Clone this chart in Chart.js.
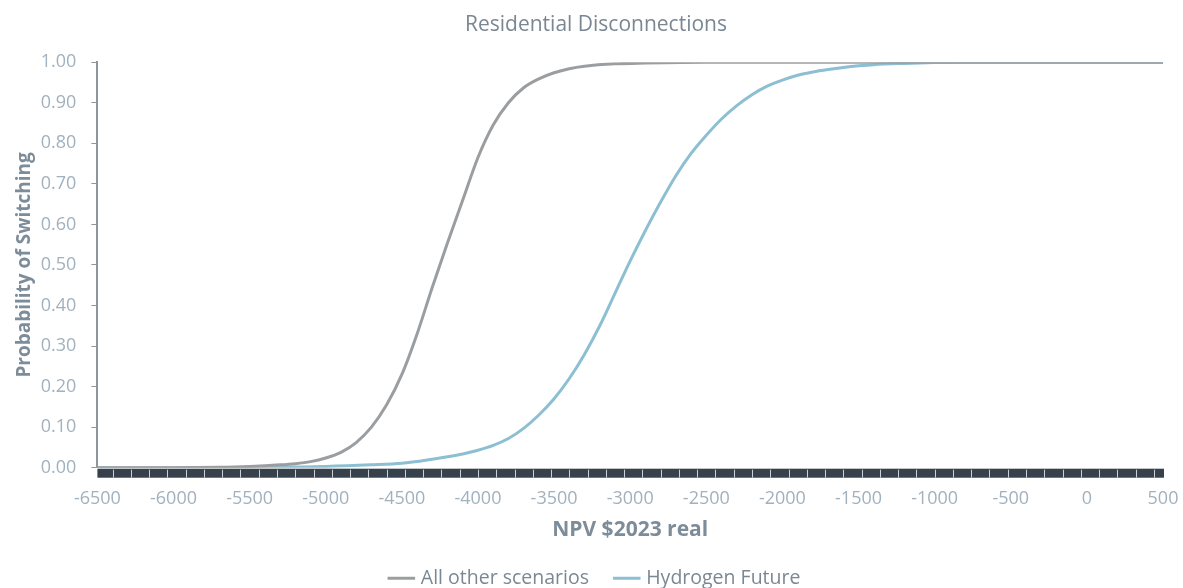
<!DOCTYPE html>
<html lang="en">
<head>
    <meta charset="UTF-8">
    <title>Residential Disconnections</title>
    <script src="https://cdn.jsdelivr.net/npm/chart.js"></script>
    <style>
        body {
            margin: 0;
            background-color: #ffffff;
            font-family: 'Open Sans', sans-serif;
        }

        .chart-box {
            position: relative;
            width: 1183px;
            height: 588px;
        }
    </style>
</head>
<body>

    <div class="chart-box">
        <canvas id="switchChart"></canvas>
    </div>

    <script>
        // NPV values ($2023 real) and switching probabilities
        var otherNpv = [-6500, -6000, -5700, -5500, -5300, -5200, -5100, -5000, -4900, -4800, -4700, -4600,
            -4500, -4400, -4300, -4200, -4100, -4000, -3900, -3800, -3700, -3600, -3500, -3400,
            -3300, -3100, -2900, -2500, 500];
        var otherProb = [0.000, 0.000, 0.001, 0.003, 0.007, 0.010, 0.015, 0.024, 0.038, 0.062, 0.100, 0.155,
            0.230, 0.330, 0.445, 0.555, 0.660, 0.765, 0.845, 0.900, 0.937, 0.959, 0.974, 0.984,
            0.990, 0.996, 0.998, 1.000, 1.000];

        var hydrogenNpv = [-6500, -6000, -5500, -5000, -4700, -4500, -4300, -4200, -4100, -4000, -3900, -3800,
            -3700, -3600, -3500, -3400, -3300, -3200, -3100, -3000, -2900, -2800, -2700, -2600,
            -2500, -2400, -2300, -2200, -2100, -2000, -1900, -1800, -1700, -1600, -1500, -1400,
            -1200, -1000, -800, 500];
        var hydrogenProb = [0.000, 0.000, 0.001, 0.003, 0.007, 0.011, 0.021, 0.027, 0.034, 0.043, 0.055, 0.072,
            0.097, 0.130, 0.170, 0.220, 0.280, 0.350, 0.430, 0.510, 0.585, 0.655, 0.720, 0.775,
            0.820, 0.860, 0.893, 0.920, 0.941, 0.956, 0.968, 0.976, 0.982, 0.987, 0.991, 0.994,
            0.997, 0.999, 1.000, 1.000];

        var seriesNames = ['All other scenarios', 'Hydrogen Future'];

        function toPoints(xs, ys) {
            return xs.map(function (x, i) { return { x: x, y: ys[i] }; });
        }

        // dark band under the x axis, with light separators
        var axisBand = {
            id: 'axisBand',
            beforeDatasetsDraw: function (chart) {
                var ctx = chart.ctx;
                var area = chart.chartArea;
                var xs = chart.scales.x;
                ctx.save();
                ctx.fillStyle = '#36414b';
                ctx.fillRect(area.left, area.bottom + 1, area.right - area.left + 1, 9);
                ctx.strokeStyle = '#c9d0d6';
                ctx.lineWidth = 1;
                for (var v = -6400; v < 500; v += 120) {
                    var px = Math.round(xs.getPixelForValue(v)) + 0.5;
                    ctx.beginPath();
                    ctx.moveTo(px, area.bottom + 2);
                    ctx.lineTo(px, area.bottom + 10);
                    ctx.stroke();
                }
                ctx.restore();
            }
        };

        var ctx1 = document.getElementById('switchChart').getContext('2d');
        var switchChart = new Chart(ctx1, {
            type: 'line',
            data: {
                datasets: [{
                    label: seriesNames[0],
                    data: toPoints(otherNpv, otherProb),
                    borderColor: '#9b9ea1',
                    backgroundColor: '#9b9ea1',
                    borderWidth: 3,
                    pointRadius: 0,
                    cubicInterpolationMode: 'monotone'
                }, {
                    label: seriesNames[1],
                    data: toPoints(hydrogenNpv, hydrogenProb),
                    borderColor: '#8cbfd2',
                    backgroundColor: '#8cbfd2',
                    borderWidth: 3,
                    pointRadius: 0,
                    cubicInterpolationMode: 'monotone'
                }]
            },
            options: {
                responsive: true,
                maintainAspectRatio: false,
                animation: false,
                layout: {
                    padding: { top: 12, right: 4, left: 13, bottom: -10 }
                },
                plugins: {
                    title: {
                        display: true,
                        text: 'Residential Disconnections',
                        color: '#7a8792',
                        font: { family: 'Open Sans', size: 21, weight: 'normal' },
                        padding: { top: 0, bottom: 25 }
                    },
                    legend: {
                        position: 'bottom',
                        labels: {
                            usePointStyle: true,
                            pointStyle: 'line',
                            boxWidth: 30,
                            color: '#7b8894',
                            font: { family: 'Open Sans', size: 19.5 },
                            padding: 28
                        }
                    },
                    tooltip: { enabled: false }
                },
                scales: {
                    x: {
                        type: 'linear',
                        min: -6500,
                        max: 500,
                        grid: { display: false, drawTicks: false },
                        border: { display: false },
                        afterFit: function (scale) {
                            scale.paddingRight = 20;
                        },
                        ticks: {
                            stepSize: 500,
                            padding: 20,
                            color: '#a2b1be',
                            font: { family: 'Open Sans', size: 18 },
                            maxRotation: 0,
                            callback: function (v) { return String(v); }
                        },
                        title: {
                            display: true,
                            text: 'NPV $2023 real',
                            color: '#7d8c99',
                            font: { family: 'Open Sans', size: 21, weight: 'bold' },
                            padding: { top: -12, bottom: -2 }
                        }
                    },
                    y: {
                        min: 0,
                        max: 1,
                        grid: {
                            drawOnChartArea: false,
                            drawTicks: true,
                            tickLength: 6,
                            color: '#8e969c'
                        },
                        border: { display: true, color: '#8e969c', width: 2 },
                        ticks: {
                            stepSize: 0.1,
                            padding: 15,
                            color: '#a2b1be',
                            font: { family: 'Open Sans', size: 18 },
                            callback: function (v) { return v.toFixed(2); }
                        },
                        title: {
                            display: true,
                            text: 'Probability of Switching',
                            color: '#7d8c99',
                            font: { family: 'Open Sans', size: 19, weight: 'bold' },
                            padding: { top: 0, bottom: -10 }
                        }
                    }
                }
            },
            plugins: [axisBand]
        });
    </script>

</body>
</html>
